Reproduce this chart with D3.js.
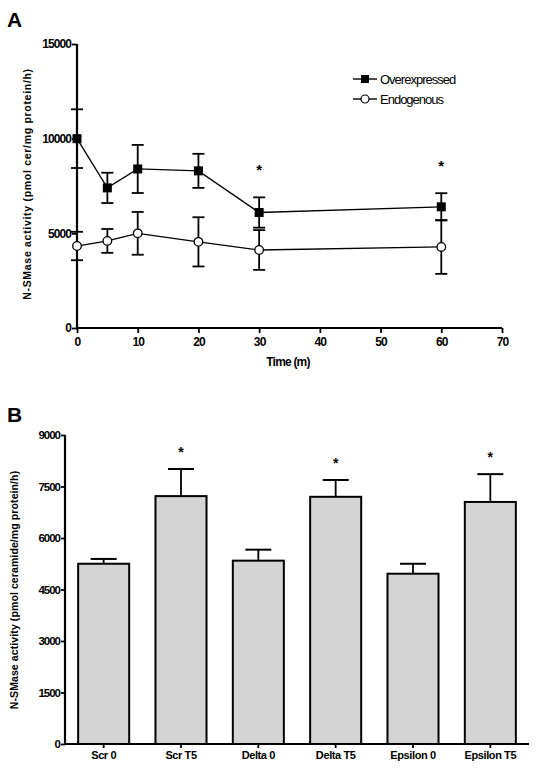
<!DOCTYPE html>
<html><head><meta charset="utf-8">
<script src="https://cdn.jsdelivr.net/npm/d3@7"></script>
<style>
body{margin:0;background:#fff;}
svg{display:block;}
text{font-family:"Liberation Sans",Arial,sans-serif;fill:#000;}
</style></head>
<body><svg id="c" width="538" height="771"></svg>
<script>
// Panel A data
const times = [0, 5, 10, 20, 30, 60];
const overMean = [10000, 7400, 8400, 8300, 6100, 6400];
const overErr  = [1550, 800, 1270, 900, 800, 720];
const endoMean = [4330, 4600, 5000, 4550, 4120, 4280];
const endoErr  = [750, 630, 1130, 1300, 1050, 1420];
const starTimesA = [30, 60];
const xTicksA = [0, 10, 20, 30, 40, 50, 60, 70];
const yTicksA = [0, 5000, 10000, 15000];

// Panel B data
const groups = ["Scr 0", "Scr T5", "Delta 0", "Delta T5", "Epsilon 0", "Epsilon T5"];
const barMean = [5250, 7220, 5340, 7200, 4960, 7050];
const barErr  = [140, 790, 320, 490, 290, 810];
const barStar = [false, true, false, true, false, true];
const yTicksB = [0, 1500, 3000, 4500, 6000, 7500, 9000];

const svg = d3.select("#c");

// ---------- Panel A ----------
const xA = d3.scaleLinear().domain([0, 70]).range([77, 502]);
const yA = d3.scaleLinear().domain([0, 15000]).range([328, 44]);
const gA = svg.append("g");

gA.append("text").attr("x", 7).attr("y", 27).attr("font-size", 21).attr("font-weight", "bold").text("A");

const axXA = gA.append("g").attr("transform", "translate(0,328)")
  .call(d3.axisBottom(xA).tickValues(xTicksA).tickSize(5).tickPadding(4).tickFormat(d3.format("d")));
const axYA = gA.append("g").attr("transform", "translate(77,0)")
  .call(d3.axisLeft(yA).tickValues(yTicksA).tickSize(5).tickPadding(1).tickFormat(d3.format("d")));
[axXA, axYA].forEach(a => {
  a.select(".domain").attr("stroke", "#000").attr("stroke-width", 2.2);
  a.selectAll(".tick line").attr("stroke", "#000").attr("stroke-width", 1.8);
  a.selectAll(".tick text").attr("font-size", 12).attr("font-weight", "bold")
    .attr("letter-spacing", -0.9).attr("font-family", "'Liberation Sans',Arial,sans-serif");
});
axXA.select(".domain").attr("d", "M77,0H502");
axYA.select(".domain").attr("d", "M0,44V328");

gA.append("text").attr("x", 288).attr("y", 366).attr("text-anchor", "middle")
  .attr("font-size", 12).attr("font-weight", "bold").attr("letter-spacing", -0.8).text("Time (m)");

gA.append("text").attr("transform", "translate(31,184) rotate(-90)").attr("text-anchor", "middle")
  .attr("font-size", 10.5).attr("font-weight", "bold").attr("letter-spacing", 0.7)
  .text("N-SMase activity (pmol cer/mg protein/h)");

function drawSeries(means, errs, marker) {
  const line = d3.line().x((d, i) => xA(times[i])).y(d => yA(d));
  gA.append("path").datum(means).attr("d", line).attr("fill", "none").attr("stroke", "#000").attr("stroke-width", 1.3);
  const cap = 6;
  means.forEach((m, i) => {
    const x = xA(times[i]);
    gA.append("line").attr("x1", x).attr("x2", x).attr("y1", yA(m + errs[i])).attr("y2", yA(m - errs[i]))
      .attr("stroke", "#000").attr("stroke-width", 1.8);
    [m + errs[i], m - errs[i]].forEach(v => {
      gA.append("line").attr("x1", x - cap).attr("x2", x + cap).attr("y1", yA(v)).attr("y2", yA(v))
        .attr("stroke", "#000").attr("stroke-width", 1.8);
    });
  });
  means.forEach((m, i) => {
    const x = xA(times[i]), y = yA(m);
    if (marker === "square") {
      gA.append("rect").attr("x", x - 4.5).attr("y", y - 4.5).attr("width", 9).attr("height", 9).attr("fill", "#000");
    } else {
      gA.append("circle").attr("cx", x).attr("cy", y).attr("r", 4.3).attr("fill", "#fff").attr("stroke", "#000").attr("stroke-width", 1.3);
    }
  });
}
drawSeries(endoMean, endoErr, "circle");
drawSeries(overMean, overErr, "square");

starTimesA.forEach(t => {
  const i = times.indexOf(t);
  gA.append("text").attr("x", xA(t)).attr("y", yA(overMean[i] + overErr[i]) - 22)
    .attr("text-anchor", "middle").attr("font-size", 15).attr("font-weight", "bold").text("*");
});

// legend
const legA = [["Overexpressed", "square", 79], ["Endogenous", "circle", 99]];
legA.forEach(([lab, mk, y]) => {
  gA.append("line").attr("x1", 353).attr("x2", 377).attr("y1", y).attr("y2", y).attr("stroke", "#000").attr("stroke-width", 1.4);
  if (mk === "square") gA.append("rect").attr("x", 361).attr("y", y - 4).attr("width", 8).attr("height", 8).attr("fill", "#000");
  else gA.append("circle").attr("cx", 365).attr("cy", y).attr("r", 4).attr("fill", "#fff").attr("stroke", "#000").attr("stroke-width", 1.2);
  gA.append("text").attr("x", 380).attr("y", y + 4.5).attr("font-size", 13).attr("letter-spacing", -1).text(lab);
});

// ---------- Panel B ----------
const xB = d3.scaleBand().domain(groups).range([65, 529]).paddingInner(0.34).paddingOuter(0.17);
const yB = d3.scaleLinear().domain([0, 9000]).range([744, 435]);
const gB = svg.append("g");

gB.append("text").attr("x", 7).attr("y", 422).attr("font-size", 21).attr("font-weight", "bold").text("B");

gB.append("text").attr("transform", "translate(18,590) rotate(-90)").attr("text-anchor", "middle")
  .attr("font-size", 10.5).attr("font-weight", "bold").attr("letter-spacing", 0.1)
  .text("N-SMase activity (pmol ceramide/mg protein/h)");

// bars
gB.selectAll("rect.bar").data(groups).join("rect").attr("class", "bar")
  .attr("x", d => xB(d)).attr("width", xB.bandwidth())
  .attr("y", (d, i) => yB(barMean[i])).attr("height", (d, i) => yB(0) - yB(barMean[i]))
  .attr("fill", "#d4d4d4").attr("stroke", "#000").attr("stroke-width", 2);

groups.forEach((g, i) => {
  const cx = xB(g) + xB.bandwidth() / 2;
  const top = yB(barMean[i] + barErr[i]);
  gB.append("line").attr("x1", cx).attr("x2", cx).attr("y1", yB(barMean[i])).attr("y2", top)
    .attr("stroke", "#000").attr("stroke-width", 1.8);
  gB.append("line").attr("x1", cx - 13).attr("x2", cx + 13).attr("y1", top).attr("y2", top)
    .attr("stroke", "#000").attr("stroke-width", 2);
  if (barStar[i]) {
    gB.append("text").attr("x", cx).attr("y", top - 12).attr("text-anchor", "middle")
      .attr("font-size", 14).attr("font-weight", "bold").text("*");
  }
});

const axXB = gB.append("g").attr("transform", "translate(0,744)")
  .call(d3.axisBottom(xB).tickSize(4).tickPadding(3));
const axYB = gB.append("g").attr("transform", "translate(65,0)")
  .call(d3.axisLeft(yB).tickValues(yTicksB).tickSize(4).tickPadding(1).tickFormat(d3.format("d")));
[axXB, axYB].forEach(a => {
  a.select(".domain").attr("stroke", "#000").attr("stroke-width", 2.2);
  a.selectAll(".tick line").attr("stroke", "#000").attr("stroke-width", 1.8);
});
axXB.select(".domain").attr("d", "M65,0H529");
axYB.select(".domain").attr("d", "M0,435V744");
axYB.selectAll(".tick text").attr("font-size", 11.5).attr("font-weight", "bold").attr("letter-spacing", -1)
  .attr("font-family", "'Liberation Sans',Arial,sans-serif");
axXB.selectAll(".tick text").attr("font-size", 11).attr("font-weight", "bold").attr("letter-spacing", -0.4)
  .attr("font-family", "'Liberation Sans Narrow','Arial Narrow','Liberation Sans',sans-serif");
</script></body></html>
